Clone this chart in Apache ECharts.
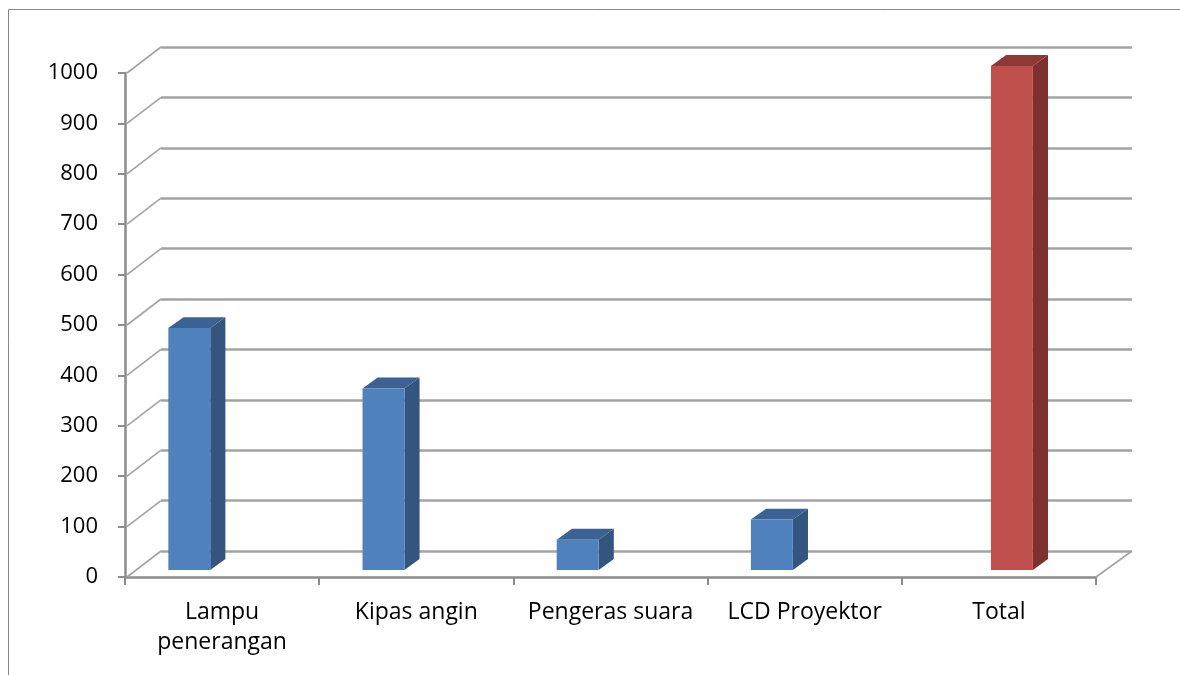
<!DOCTYPE html>
<html>
<head>
<meta charset="utf-8">
<script src="https://cdn.jsdelivr.net/npm/echarts@6/dist/echarts.min.js"></script>
<style>
  html, body { margin: 0; padding: 0; background: #fff; }
  #chart { width: 1180px; height: 675px; }
</style>
</head>
<body>
<div id="chart"></div>
<script>
// Categories and values
const categories = ['Lampu\npenerangan', 'Kipas angin', 'Pengeras suara', 'LCD Proyektor', 'Total'];
const usageValues = [480, 360, 60, 100, null];
const totalValues = [null, null, null, null, 1000];
const yMin = 0, yMax = 1000, yStep = 100;
const yTicks = [0, 100, 200, 300, 400, 500, 600, 700, 800, 900, 1000];

// Oblique depth vector of the chart box (px) and column placement within it
const DX = 36, DY = -26;
const FRONT = 0.27, BACK = 0.69;           // column front/back depth fractions
const COL_W = 0.216;                        // column width as share of a category
const FONT = "'Open Sans', 'Liberation Sans', sans-serif";
const GRID_COLOR = '#a3a3a3';
const AXIS_COLOR = '#8c8c8c';

const chart = echarts.init(document.getElementById('chart'));

function columnRenderer(slot, colors) {
  return function (params, api) {
    const idx = api.value(0), v = api.value(1);
    if (v == null || isNaN(v)) return null;
    const base = api.coord([idx, 0]);
    const top = api.coord([idx, v]);
    const bw = api.size([1, 0])[0];
    const x0 = base[0] - bw / 2 + slot * bw + FRONT * DX;
    const w = COL_W * bw;
    const y0 = base[1] + FRONT * DY;
    const y1 = top[1] + FRONT * DY;
    const ddx = (BACK - FRONT) * DX, ddy = (BACK - FRONT) * DY;
    return {
      type: 'group',
      children: [
        { type: 'polygon', shape: { points: [[x0 + w, y1], [x0 + w + ddx, y1 + ddy], [x0 + w + ddx, y0 + ddy], [x0 + w, y0]] },
          style: { fill: colors.side } },
        { type: 'polygon', shape: { points: [[x0, y1], [x0 + ddx, y1 + ddy], [x0 + w + ddx, y1 + ddy], [x0 + w, y1]] },
          style: { fill: colors.top } },
        { type: 'rect', shape: { x: x0, y: y1, width: w, height: y0 - y1 },
          style: { fill: colors.front } }
      ]
    };
  };
}

const option = {
  backgroundColor: '#ffffff',
  animation: false,
  graphic: [{
    type: 'rect', shape: { x: 8.5, y: 9.5, width: 1200, height: 700 },
    style: { fill: 'none', stroke: '#868686', lineWidth: 1 }, z: 0
  }],
  grid: [
    { left: 125, right: 84, top: 73, bottom: 98 },   // front plane
    { left: 161, right: 48, top: 47, bottom: 124 }   // back wall
  ],
  xAxis: [
    {
      gridIndex: 0, type: 'category', data: categories, boundaryGap: true,
      axisLine: { show: true, lineStyle: { color: AXIS_COLOR, width: 2.5 } },
      axisTick: { show: true, length: 8, lineStyle: { color: AXIS_COLOR, width: 2 } },
      axisLabel: { color: '#000', fontFamily: FONT, fontSize: 23, lineHeight: 30, margin: 20, interval: 0 },
      splitLine: { show: false }
    },
    {
      gridIndex: 1, type: 'category', data: categories, show: false
    }
  ],
  yAxis: [
    {
      gridIndex: 0, type: 'value', min: yMin, max: yMax, interval: yStep,
      axisLine: { show: true, lineStyle: { color: AXIS_COLOR, width: 2.5 } },
      axisTick: { show: true, length: 7, lineStyle: { color: AXIS_COLOR, width: 2 } },
      axisLabel: { color: '#000', fontFamily: FONT, fontSize: 22, margin: 27, formatter: v => String(v) },
      splitLine: { show: false }
    },
    {
      gridIndex: 1, type: 'value', min: yMin, max: yMax, interval: yStep,
      axisLine: { show: false }, axisTick: { show: false }, axisLabel: { show: false },
      splitLine: { show: true, lineStyle: { color: GRID_COLOR, width: 2.5 } }
    }
  ],
  series: [
    {
      // diagonal wall edges joining front ticks to the back gridlines
      type: 'custom', xAxisIndex: 0, yAxisIndex: 0, z: 1,
      data: yTicks.map(v => [0, v]),
      renderItem: function (params, api) {
        const p = api.coord([0, api.value(1)]);
        const bw = api.size([1, 0])[0];
        const x = p[0] - bw / 2;
        return { type: 'line', shape: { x1: x + 2, y1: p[1], x2: x + DX, y2: p[1] + DY },
          style: { stroke: GRID_COLOR, lineWidth: 1.6 } };
      }
    },
    {
      // right floor edge
      type: 'custom', xAxisIndex: 0, yAxisIndex: 0, z: 1,
      data: [[categories.length - 1, 0]],
      renderItem: function (params, api) {
        const p = api.coord([api.value(0), 0]);
        const bw = api.size([1, 0])[0];
        const x = p[0] + bw / 2;
        return { type: 'line', shape: { x1: x, y1: p[1], x2: x + DX, y2: p[1] + DY },
          style: { stroke: GRID_COLOR, lineWidth: 1.6 } };
      }
    },
    {
      type: 'custom', xAxisIndex: 0, yAxisIndex: 0, z: 5,
      data: usageValues.map((v, i) => [i, v]),
      renderItem: columnRenderer(0.173, { front: '#4f81bd', side: '#33557f', top: '#3c6293' })
    },
    {
      type: 'custom', xAxisIndex: 0, yAxisIndex: 0, z: 5,
      data: totalValues.map((v, i) => [i, v]),
      renderItem: columnRenderer(0.409, { front: '#c0504d', side: '#7d302e', top: '#8e3936' })
    }
  ]
};

chart.setOption(option);
</script>
</body>
</html>
